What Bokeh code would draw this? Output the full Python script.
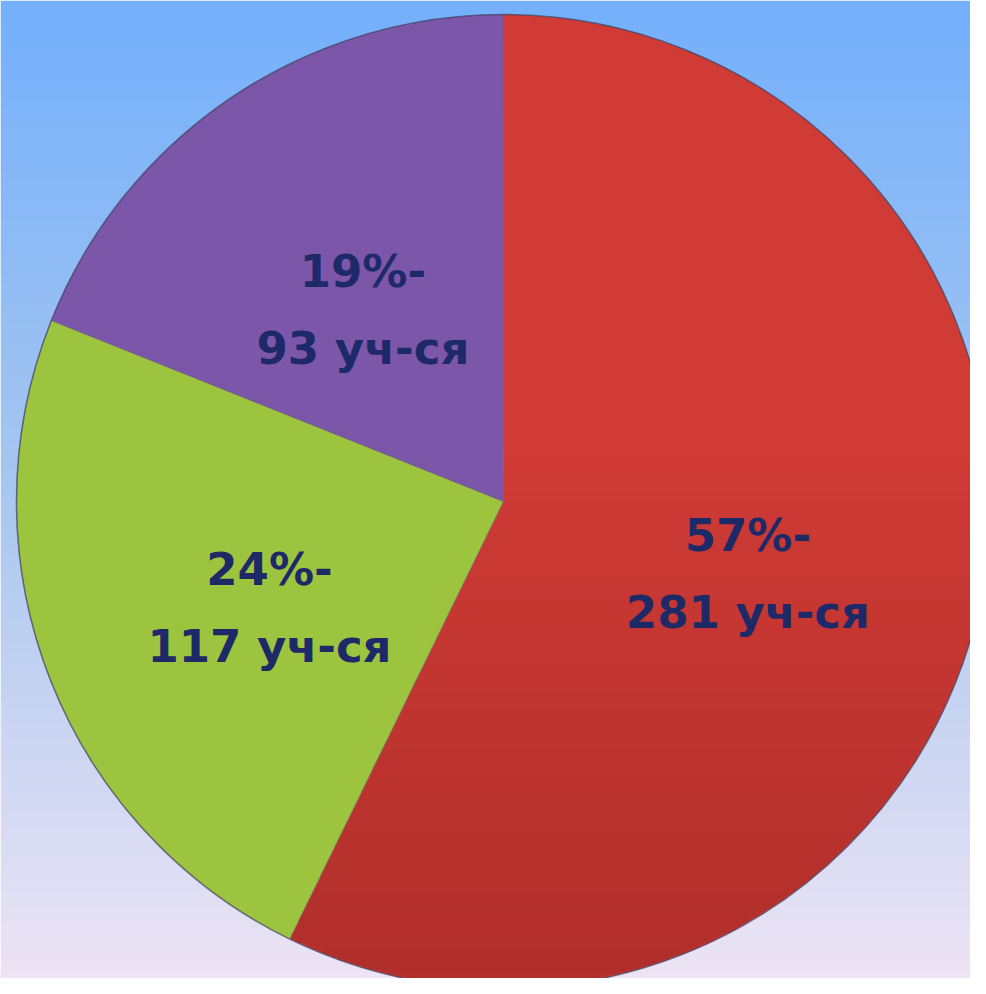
import numpy as np
from bokeh.plotting import figure
from bokeh.models import ColumnDataSource
from bokeh.core.properties import value
from bokeh.embed import file_html
from bokeh.resources import INLINE

# ---- data ----
categories = ["A", "B", "C"]
counts = [281, 117, 93]
percents = [57, 24, 19]
labels_pct = ["57%-", "24%-", "19%-"]
labels_cnt = ["281 уч-ся", "117 уч-ся", "93 уч-ся"]
colors = ["#d03b36", "#9dc43f", "#7c56a8"]

W, H = 970, 978
PAGE_H = 994
# data coords: x = screen px, y = PAGE_H - screen px
cx, cy = 503, PAGE_H - 501
R = 487

p = figure(width=W, height=H, x_range=(0, W), y_range=(PAGE_H - H, PAGE_H),
           output_backend="svg", toolbar_location=None, min_border=0)
p.axis.visible = False
p.grid.visible = False
p.outline_line_color = None
p.background_fill_color = None
p.border_fill_color = "#ffffff"

# background vertical gradient
ny = 200
top = np.array([116, 176, 252])
mid = np.array([168, 199, 240])
bot = np.array([237, 228, 245])
img = np.zeros((ny, 2), dtype=np.uint32)
view = img.view(dtype=np.uint8).reshape((ny, 2, 4))
for i in range(ny):
    s = 1 - i / (ny - 1)  # 0 top, 1 bottom
    if s < 0.5:
        c = top + (mid - top) * (s / 0.5)
    else:
        c = mid + (bot - mid) * ((s - 0.5) / 0.5)
    view[i, :, 0] = int(c[0]); view[i, :, 1] = int(c[1]); view[i, :, 2] = int(c[2]); view[i, :, 3] = 255
p.image_rgba(image=[img], x=0, y=PAGE_H - H, dw=W, dh=H)

total = sum(counts)
fr = np.array(counts) / total
cum = np.concatenate([[0], np.cumsum(fr)])
start = np.pi / 2 - 2 * np.pi * cum[:-1]
end = np.pi / 2 - 2 * np.pi * cum[1:]
src = ColumnDataSource(dict(start=start, end=end, color=colors))
p.wedge(x=cx, y=cy, radius=R, start_angle="start", end_angle="end", direction="clock",
        fill_color="color", line_color=None, source=src)

# darkening shade on the first (red) slice toward the bottom
n = 500
xs = np.linspace(cx - R, cx + R, n)
ys = np.linspace(cy - R, cy + R, n)
X, Y = np.meshgrid(xs, ys)
dx, dy = X - cx, Y - cy
rr = np.hypot(dx, dy)
ang_cw = np.mod(np.pi / 2 - np.arctan2(dy, dx), 2 * np.pi)  # clockwise from top
inside = (rr <= R) & (ang_cw >= 2 * np.pi * cum[0]) & (ang_cw <= 2 * np.pi * cum[1])
ys_screen = PAGE_H - Y
a = np.clip((ys_screen - 450) / (990 - 450), 0, 1) * 0.22
shade = np.zeros((n, n), dtype=np.uint32)
sv = shade.view(dtype=np.uint8).reshape((n, n, 4))
sv[..., 0] = 60; sv[..., 1] = 0; sv[..., 2] = 0
sv[..., 3] = np.where(inside, (a * 255).astype(np.uint8), 0)
p.image_rgba(image=[shade], x=cx - R, y=cy - R, dw=2 * R, dh=2 * R)

# slice borders and rim
p.wedge(x=cx, y=cy, radius=R, start_angle="start", end_angle="end", direction="clock",
        fill_color=None, line_color="#6a5a6a", line_alpha=0.35, line_width=1, source=src)
p.circle(x=[cx], y=[cy], radius=R, fill_color=None, line_color="#3e3e5e", line_alpha=0.6, line_width=1.6)

# labels along mid-angle
midang = (start + end) / 2
rf = 0.515
lx = cx + rf * R * np.cos(midang)
ly = cy + rf * R * np.sin(midang) - 16
font = value("DejaVu Sans")
p.text(x=lx, y=ly + 38.5, text=labels_pct, text_font=font, text_font_style="bold",
       text_font_size="45px", text_color="#1e2a68", text_align="center", text_baseline="alphabetic")
p.text(x=lx, y=ly - 38.5, text=labels_cnt, text_font=font, text_font_style="bold",
       text_font_size="45px", text_color="#1e2a68", text_align="center", text_baseline="alphabetic")

open("out.html", "w").write(file_html(p, INLINE))
